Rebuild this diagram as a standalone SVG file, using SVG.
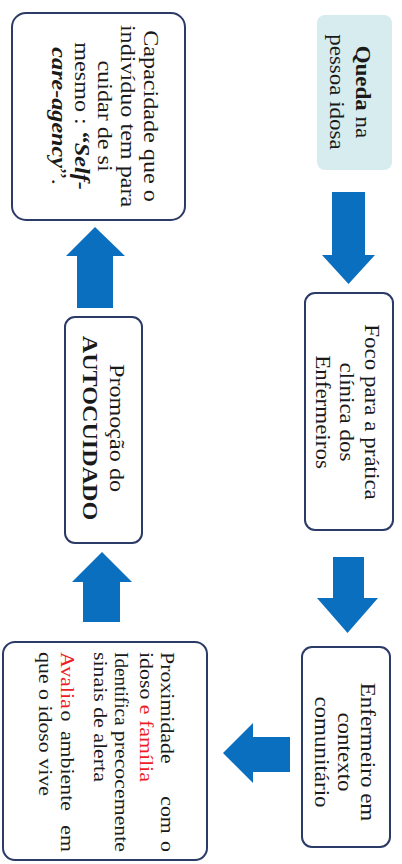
<svg xmlns="http://www.w3.org/2000/svg" width="402" height="864" viewBox="0 0 402 864">
<style>
.box{fill:#ffffff;stroke:#2b3a67;stroke-width:2}
.teal{fill:#d6ecef;stroke:none}
.arr{fill:#0b6fc0}
text{font-family:"Liberation Serif","Times New Roman",serif;fill:#1a1a1a}
.f20{font-size:20px}
.f21{font-size:21px}
.f19{font-size:19px}
.b{font-weight:bold}
.bi{font-weight:bold;font-style:italic}
.red{fill:#ee1c25}
.m{text-anchor:middle}
.e{text-anchor:end}
</style>
<rect width="402" height="864" fill="#ffffff"/>
<g id="connectors">
<polygon class="arr" points="332,192 365,192 365,255 375,255 348.5,284 322,255 332,255"/>
<polygon class="arr" points="333,557 364,557 364,598 378,598 347.5,633 317,598 333,598"/>
<polygon class="arr" points="290,737 290,772 253,772 253,783 223,753 253,723 253,737"/>
<polygon class="arr" points="83,622 120,622 120,582 132,582 102,552 72,582 83,582"/>
<polygon class="arr" points="77,308 113,308 113,256 125,256 95,227 66,256 77,256"/>
</g>
<g id="node-queda">
<rect class="teal" x="317" y="15" width="75" height="155" rx="8"/>
<g transform="rotate(90) scale(1.15,1)">
<text class="f20 m" x="80" y="-356"><tspan class="b">Queda</tspan> na</text>
<text class="f20 m" x="80" y="-330">pessoa idosa</text>
</g>
</g>
<g id="node-foco">
<rect class="box" x="305" y="293" width="88" height="237" rx="10"/>
<g transform="rotate(90) scale(1.15,1)">
<text class="f20 m" x="358.3" y="-365">Foco para a prática</text>
<text class="f20 m" x="358.3" y="-340">clínica dos</text>
<text class="f20 m" x="358.3" y="-316">Enfermeiros</text>
</g>
</g>
<g id="node-enfermeiro">
<rect class="box" x="302" y="647" width="88" height="200" rx="10"/>
<g transform="rotate(90) scale(1.15,1)">
<text class="f20 m" x="653.9" y="-361">Enfermeiro em</text>
<text class="f20 m" x="653.9" y="-338">contexto</text>
<text class="f20 m" x="653.9" y="-315">comunitário</text>
</g>
</g>
<g id="node-proximidade">
<rect class="box" x="3" y="642" width="204" height="218" rx="12"/>
<g transform="rotate(90) scale(1.15,1)">
<text class="f19" x="567" y="-161.5">Proximidade</text>
<text class="f19 m" x="708.7" y="-161.5">com</text>
<text class="f19 e" x="740.9" y="-161.5">o</text>
<text class="f19" x="567" y="-140.5">idoso <tspan class="red">e família</tspan></text>
<text class="f19" x="567" y="-115.5" textLength="64" lengthAdjust="spacingAndGlyphs">Identifica</text>
<text class="f19 e" x="740.9" y="-115.5">precocemente</text>
<text class="f19" x="567" y="-94.5">sinais de alerta</text>
<text class="f19 red" x="567" y="-61.5">Avalia</text>
<text class="f19 m" x="622.6" y="-61.5">o</text>
<text class="f19 m" x="670.4" y="-61.5">ambiente</text>
<text class="f19 e" x="740.9" y="-61.5">em</text>
<text class="f19" x="567" y="-39.5">que o idoso vive</text>
</g>
</g>
<g id="node-autocuidado">
<rect class="box" x="65" y="317" width="77" height="226" rx="10"/>
<g transform="rotate(90) scale(1.15,1)">
<text class="f21 m" x="372.2" y="-110">Promoção do</text>
<text class="f21 m b" x="372.2" y="-83">AUTOCUIDADO</text>
</g>
</g>
<g id="node-capacidade">
<rect class="box" x="12" y="13" width="173" height="207" rx="14"/>
<g transform="rotate(90) scale(1.15,1)">
<text class="f21 m" x="100.9" y="-144">Capacidade que o</text>
<text class="f21 m" x="100.9" y="-121">indivíduo tem para</text>
<text class="f21 m" x="100.9" y="-98">cuidar de si</text>
<text class="f21 m" x="100.9" y="-75">mesmo : <tspan class="bi">“Self-</tspan></text>
<text class="f21 m" x="100.9" y="-52"><tspan class="bi">care-agency</tspan>”.</text>
</g>
</g>
</svg>
